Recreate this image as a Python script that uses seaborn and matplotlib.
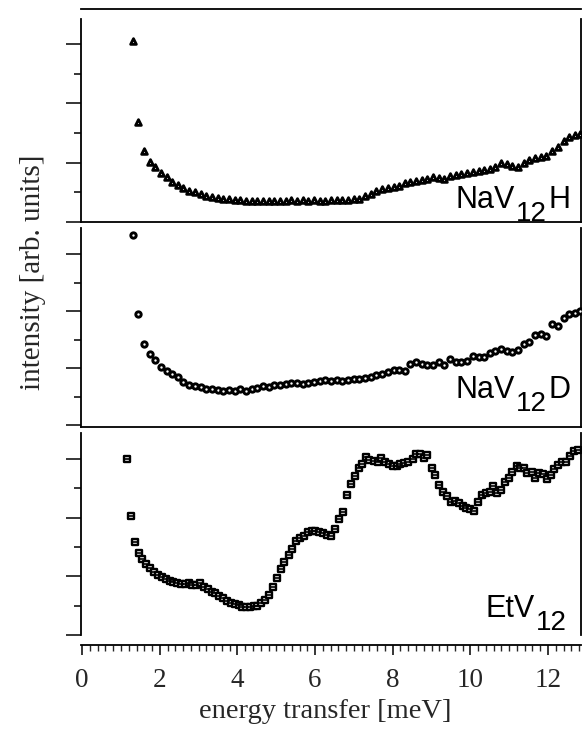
import numpy as np
import pandas as pd
import matplotlib
matplotlib.use("Agg")
import matplotlib.pyplot as plt
import seaborn as sns
from matplotlib.ticker import MultipleLocator

# ---------------- data ----------------
nah_x = [1.30, 1.45, 1.59, 1.74, 1.88, 2.03, 2.18, 2.32, 2.47, 2.61, 2.76, 2.91, 3.05, 3.20, 3.34,
         3.49, 3.64, 3.78, 3.93, 4.07, 4.22, 4.37, 4.51, 4.66, 4.80, 4.95, 5.10, 5.24, 5.39, 5.53,
         5.68, 5.83, 5.97, 6.12, 6.26, 6.41, 6.56, 6.70, 6.85, 6.99, 7.14, 7.29, 7.43, 7.58, 7.72,
         7.87, 8.02, 8.16, 8.31, 8.45, 8.60, 8.75, 8.89, 9.04, 9.18, 9.33, 9.48, 9.62, 9.77, 9.91,
         10.06, 10.21, 10.35, 10.50, 10.64, 10.79, 10.94, 11.08, 11.23, 11.37, 11.52, 11.67, 11.81,
         11.96, 12.10, 12.25, 12.40, 12.54, 12.69, 12.83]
nah_y = [3.05, 1.68, 1.19, 1.01, 0.92, 0.83, 0.75, 0.68, 0.62, 0.57, 0.53, 0.50, 0.47, 0.44, 0.42,
         0.40, 0.39, 0.38, 0.37, 0.37, 0.36, 0.36, 0.36, 0.36, 0.36, 0.36, 0.36, 0.36, 0.37, 0.36,
         0.37, 0.36, 0.37, 0.36, 0.35, 0.37, 0.37, 0.37, 0.37, 0.38, 0.39, 0.43, 0.47, 0.52, 0.55,
         0.57, 0.59, 0.60, 0.65, 0.67, 0.69, 0.71, 0.73, 0.75, 0.74, 0.73, 0.78, 0.80, 0.81, 0.83,
         0.85, 0.86, 0.87, 0.90, 0.93, 0.99, 0.97, 0.95, 0.92, 0.99, 1.04, 1.07, 1.09,
         1.12, 1.19, 1.27, 1.37, 1.43, 1.46, 1.48]

nad_x = nah_x
nad_y = [3.33, 1.95, 1.43, 1.25, 1.15, 1.02, 0.95, 0.89, 0.84, 0.76, 0.71, 0.68, 0.66, 0.64, 0.64,
         0.62, 0.60, 0.62, 0.60, 0.63, 0.60, 0.63, 0.65, 0.68, 0.67, 0.71, 0.70, 0.72, 0.73, 0.74,
         0.72, 0.73, 0.75, 0.78, 0.79, 0.78, 0.79, 0.78, 0.79, 0.80, 0.81, 0.82, 0.85, 0.87, 0.90,
         0.93, 0.96, 0.97, 0.95, 1.08, 1.10, 1.07, 1.05, 1.06, 1.11, 1.06, 1.16, 1.10, 1.10, 1.13,
         1.22, 1.19, 1.20, 1.26, 1.30, 1.33, 1.30, 1.29, 1.32, 1.43, 1.46, 1.58, 1.59,
         1.57, 1.78, 1.74, 1.88, 1.95, 1.97, 2.00]

etv_x = [1.15, 1.25, 1.36, 1.46, 1.55, 1.65, 1.75, 1.86, 1.95, 2.05, 2.15, 2.25, 2.34, 2.45, 2.54,
         2.64, 2.74, 2.84, 2.93, 3.04, 3.14, 3.24, 3.34, 3.43, 3.53, 3.64, 3.73, 3.83, 3.93, 4.03,
         4.12, 4.22, 4.32, 4.42, 4.51, 4.61, 4.72, 4.81, 4.91, 5.02, 5.11, 5.21, 5.32, 5.41, 5.51,
         5.61, 5.71, 5.81, 5.91, 6.01, 6.11, 6.21, 6.31, 6.42, 6.52, 6.62, 6.72, 6.82, 6.92, 7.02,
         7.12, 7.21, 7.31, 7.40, 7.51, 7.61, 7.70, 7.80, 7.91, 8.00, 8.10, 8.20, 8.30, 8.40, 8.51,
         8.60, 8.70, 8.80, 8.89, 9.00, 9.10, 9.20, 9.29, 9.40, 9.50, 9.60, 9.70, 9.80, 9.90, 10.00,
         10.09, 10.20, 10.30, 10.40, 10.50, 10.59, 10.69, 10.79, 10.88, 10.99, 11.08, 11.19, 11.28,
         11.38, 11.47, 11.58, 11.67, 11.77, 11.87, 11.97, 12.07, 12.16, 12.26, 12.36, 12.46, 12.56,
         12.66, 12.77]
etv_y = [2.99, 2.03, 1.59, 1.39, 1.29, 1.21, 1.14, 1.08, 1.02, 0.98, 0.95, 0.92, 0.90, 0.88, 0.87,
         0.87, 0.88, 0.86, 0.86, 0.88, 0.82, 0.79, 0.74, 0.71, 0.67, 0.63, 0.58, 0.55, 0.53, 0.51,
         0.48, 0.48, 0.48, 0.49, 0.50, 0.54, 0.59, 0.68, 0.81, 0.97, 1.12, 1.24, 1.37, 1.47, 1.60,
         1.66, 1.69, 1.75, 1.77, 1.77, 1.76, 1.73, 1.70, 1.68, 1.81, 1.97, 2.10, 2.38, 2.57, 2.70,
         2.85, 2.91, 3.03, 2.98, 2.97, 2.94, 3.01, 2.94, 2.91, 2.88, 2.87, 2.91, 2.93, 2.94, 2.99,
         3.09, 3.09, 3.02, 3.06, 2.84, 2.73, 2.56, 2.43, 2.36, 2.26, 2.29, 2.24, 2.19, 2.17, 2.14,
         2.11, 2.27, 2.39, 2.41, 2.43, 2.53, 2.41, 2.47, 2.61, 2.68, 2.78, 2.87, 2.84,
         2.84, 2.76, 2.78, 2.67, 2.76, 2.74, 2.65, 2.73, 2.82, 2.89, 2.94, 2.95, 3.04,
         3.13, 3.15]

x_ticks = [0, 2, 4, 6, 8, 10, 12]
x_label = "energy transfer [meV]"
y_label = "intensity [arb. units]"

# ---------------- styling ----------------
sns.set_style("ticks")
plt.rcParams["font.family"] = ["Liberation Serif", "DejaVu Serif"]

W, H = 582, 729
fig = plt.figure(figsize=(W / 100, H / 100), dpi=100)


def add_axes(top_px, bottom_px, left_px=81, right_px=581):
    return fig.add_axes([left_px / W, 1 - bottom_px / H,
                         (right_px - left_px) / W, (bottom_px - top_px) / H])


ax1 = add_axes(19, 222)
ax2 = add_axes(228, 427)
ax3 = add_axes(433, 635)

xlim = (-0.03, 12.85)

panels = [
    (ax1, nah_x, nah_y, "^", 17, 2.0, "white", (0.0, 3.42)),
    (ax2, nad_x, nad_y, "o", 15, 2.1, "white", (-0.035, 3.46)),
    (ax3, etv_x, etv_y, "s", 24, 1.7, "#eeeeee", (0.0, 3.44)),
]

for ax, xs, ys, mk, sz, lw, fc, yl in panels:
    df = pd.DataFrame({"x": xs, "y": ys})
    sns.scatterplot(data=df, x="x", y="y", marker=mk, s=sz, facecolor=fc,
                    edgecolor="black", linewidth=lw, ax=ax, zorder=3, clip_on=False)
    ax.set_xlim(*xlim)
    ax.set_ylim(*yl)
    ax.set_xlabel("")
    ax.set_ylabel("")
    ax.yaxis.set_major_locator(MultipleLocator(1.0))
    ax.yaxis.set_minor_locator(MultipleLocator(0.5))
    ax.tick_params(axis="y", which="major", direction="out", length=11, width=1.3,
                   labelleft=False, left=True, right=False)
    ax.tick_params(axis="y", which="minor", direction="out", length=5, width=1.3,
                   left=True, right=False)
    for s in ax.spines.values():
        s.set_linewidth(1.3)
        s.set_color("black")
    ax.spines["right"].set_visible(True)
    ax.spines["top"].set_visible(False)

# EtV12: centre bar inside the square markers (error-bar look)
sns.scatterplot(x=etv_x, y=etv_y, marker="_", s=22, color="black", linewidth=1.2,
                ax=ax3, zorder=4, clip_on=False)
ax3.set_xlabel("")
ax3.set_ylabel("")

# top panel: detached top line
ax1.spines["top"].set_visible(True)
ax1.spines["top"].set_position(("outward", 7))
for ax in (ax1, ax2):
    ax.tick_params(axis="x", which="both", bottom=False, top=False, labelbottom=False)
    ax.spines["bottom"].set_visible(True)

# bottom panel: detached x axis
ax3.spines["bottom"].set_position(("outward", 7))
ax3.xaxis.set_major_locator(MultipleLocator(2))
ax3.xaxis.set_minor_locator(MultipleLocator(0.2))
ax3.set_xticks(x_ticks)
ax3.set_xticklabels([str(t) for t in x_ticks])
ax3.tick_params(axis="x", which="major", direction="out", length=7, width=1.3,
                labelsize=19.5, pad=10)
ax3.tick_params(axis="x", which="minor", direction="out", length=4, width=1.0)

# axis labels
fig.text(325 / W, 1 - 718 / H, x_label, ha="center", va="baseline", fontsize=20.5)
fig.text(33 / W, 1 - 272 / H, y_label, ha="center", va="center", rotation=90, fontsize=21)

# chemical labels with subscripts (placed piece by piece, in pixels)
renderer = fig.canvas.get_renderer()
SANS = ["Liberation Sans", "DejaVu Sans"]


def chem_label(x_px, base_px, main, sub, tail, big=22, small=20, drop=13):
    x = x_px
    for txt, size, dy in ((main, big, 0), (sub, small, drop), (tail, big, 0)):
        if not txt:
            continue
        t = fig.text(x / W, 1 - (base_px + dy) / H, txt, ha="left", va="baseline",
                     fontsize=size, family=SANS, color="black")
        bb = t.get_window_extent(renderer=renderer)
        x = x + bb.width + 1


chem_label(456, 208, "NaV", "12", "H")
chem_label(456, 398, "NaV", "12", "D")
chem_label(486, 617, "EtV", "12", "")

fig.savefig("out.png", dpi=100)
